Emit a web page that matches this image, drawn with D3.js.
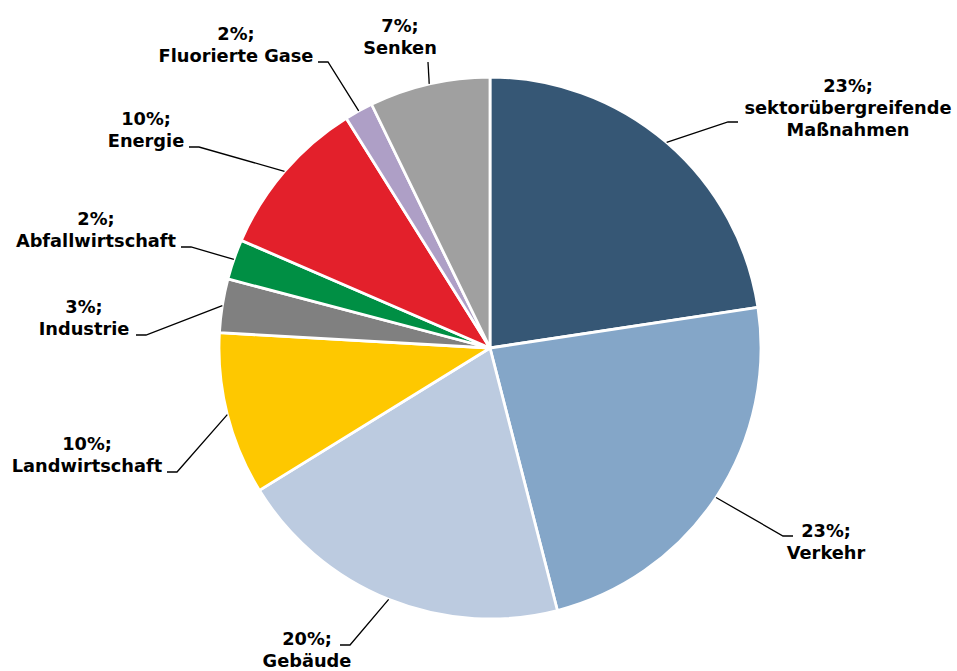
<!DOCTYPE html>
<html>
<head>
<meta charset="utf-8">
<script src="https://cdn.jsdelivr.net/npm/d3@7/dist/d3.min.js"></script>
<style>
  html, body { margin: 0; padding: 0; background: #ffffff; }
  svg { display: block; }
  text { font-family: "DejaVu Sans", Verdana, sans-serif; font-weight: bold; font-size: 17.8px; fill: #000; }
</style>
</head>
<body>
<svg id="chart" width="957" height="671"></svg>
<script>
// ---- data ----
const categories = ["sektorübergreifende Maßnahmen", "Verkehr", "Gebäude", "Landwirtschaft", "Industrie", "Abfallwirtschaft", "Energie", "Fluorierte Gase", "Senken"];
const labelLines = [["sektorübergreifende", "Maßnahmen"], ["Verkehr"], ["Gebäude"], ["Landwirtschaft"], ["Industrie"], ["Abfallwirtschaft"], ["Energie"], ["Fluorierte Gase"], ["Senken"]];
const values = [22.6, 23.4, 20.2, 9.7, 3.2, 2.4, 9.6, 1.7, 7.2];
const colors = ["#365775", "#84a6c8", "#bccbe0", "#fec800", "#808080", "#008f44", "#e3202b", "#ae9fc6", "#a0a0a0"];

// ---- layout (label placement) ----
const cx = 490, cy = 348, radius = 271;
const labelLayout = [
  { elbow: [728, 122], end: [738, 122], tx: 848, firstBaseline: 92 },
  { elbow: [783, 536], end: [793, 536], tx: 826, firstBaseline: 537 },
  { elbow: [350, 645], end: [340, 645], tx: 307, firstBaseline: 645 },
  { elbow: [177, 472], end: [167, 472], tx: 87,  firstBaseline: 450 },
  { elbow: [146, 335], end: [136, 335], tx: 84,  firstBaseline: 313 },
  { elbow: [191, 247], end: [181, 247], tx: 96,  firstBaseline: 225 },
  { elbow: [199, 147], end: [189, 147], tx: 146, firstBaseline: 125 },
  { elbow: [328, 62],  end: [318, 62],  tx: 236, firstBaseline: 40 },
  { elbow: [428, 62],  end: [428, 62],  tx: 400, firstBaseline: 32 }
];
const lineHeight = 22;

const svg = d3.select("#chart");
const total = d3.sum(values);
const pct = d3.format(".0f");

const pie = d3.pie().sort(null).value(d => d).startAngle(0).endAngle(2 * Math.PI);
const arcs = pie(values);
const arc = d3.arc().innerRadius(0).outerRadius(radius);

const g = svg.append("g").attr("transform", `translate(${cx},${cy})`);
g.selectAll("path.slice")
  .data(arcs)
  .join("path")
  .attr("class", "slice")
  .attr("d", arc)
  .attr("fill", (d, i) => colors[i])
  .attr("stroke", "#ffffff")
  .attr("stroke-width", 2.8)
  .attr("stroke-linejoin", "round");

// leader lines
const leaders = svg.append("g");
arcs.forEach((d, i) => {
  const mid = (d.startAngle + d.endAngle) / 2;
  const sx = cx + radius * Math.sin(mid);
  const sy = cy - radius * Math.cos(mid);
  const L = labelLayout[i];
  leaders.append("path")
    .attr("d", d3.line()([[sx, sy], L.elbow, L.end]))
    .attr("fill", "none")
    .attr("stroke", "#000")
    .attr("stroke-width", 1.3);
});

// labels
const labels = svg.append("g");
arcs.forEach((d, i) => {
  const L = labelLayout[i];
  const lines = [pct(values[i] / total * 100) + "%;"].concat(labelLines[i]);
  const t = labels.append("text").attr("text-anchor", "middle");
  lines.forEach((ln, k) => {
    t.append("tspan").attr("x", L.tx).attr("y", L.firstBaseline + k * lineHeight).text(ln);
  });
});
</script>
</body>
</html>
